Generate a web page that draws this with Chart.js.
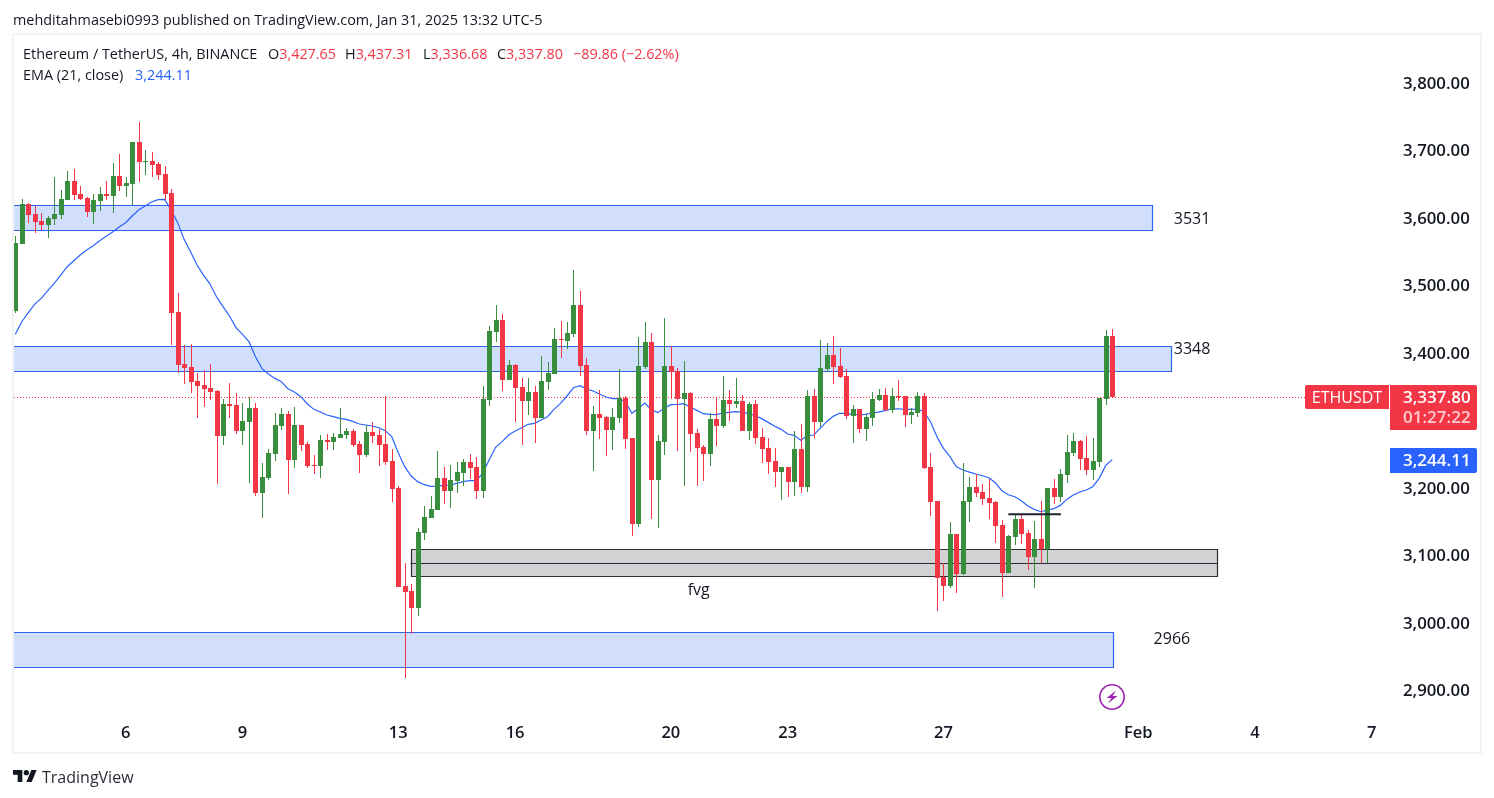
<!DOCTYPE html>
<html>
<head>
<meta charset="utf-8">
<title>ETHUSDT 4h</title>
<script src="https://cdn.jsdelivr.net/npm/chart.js@4"></script>
<style>
html, body { margin: 0; padding: 0; background: #fff; width: 1494px; height: 798px; overflow: hidden; }
body { font-family: "Open Sans", sans-serif; color: #131722; }
#frame { position: absolute; left: 12px; top: 33px; width: 1466px; height: 717px; border: 2px solid #f2f3f5; }
canvas { position: absolute; left: 0; top: 0; }
.txt { position: absolute; white-space: pre; font-size: 14.4px; line-height: 18px; }
.red { color: #f23645; }
.blue { color: #2962ff; }
</style>
</head>
<body>
<div id="frame"></div>
<canvas id="myChart" width="1494" height="798"></canvas>
<div class="txt" style="left:13px;top:11px">mehditahmasebi0993 published on TradingView.com, Jan 31, 2025 13:32 UTC-5</div>
<div class="txt" style="left:23px;top:45px">Ethereum / TetherUS, 4h, BINANCE</div>
<div class="txt" style="left:268px;top:45px">O<span class="red">3,427.65</span></div>
<div class="txt" style="left:345px;top:45px">H<span class="red">3,437.31</span></div>
<div class="txt" style="left:423px;top:45px">L<span class="red">3,336.68</span></div>
<div class="txt" style="left:497px;top:45px">C<span class="red">3,337.80</span></div>
<div class="txt red" style="left:573px;top:45px">−89.86 (−2.62%)</div>
<div class="txt" style="left:23px;top:66px">EMA (21, close)</div>
<div class="txt blue" style="left:135px;top:66px">3,244.11</div>
<svg style="position:absolute;left:13px;top:767px" width="24" height="18" viewBox="0 0 36 26"><path fill="#131722" d="M14 22H7V11H0V4h14v18zM28 22h-8l7.5-18h8L28 22z"/><circle fill="#131722" cx="20" cy="8" r="4"/></svg>
<div class="txt" style="left:42px;top:767px;font-size:16px;line-height:20px;color:#2a2e39">TradingView</div>
<svg style="position:absolute;left:1098px;top:683px" width="28" height="28" viewBox="0 0 28 28"><circle cx="14" cy="14" r="12.2" fill="#fff" stroke="#9c27b0" stroke-width="1.6"/><path fill="#9c27b0" d="M18 7.5 8.5 15h5l-3.5 5.5 9.5-7.5h-5z"/></svg>

<script>
// candles, oldest first, 4h bars
var opens = [
  3463,3562,3621,3606,3596,3590,3599,3605,3627,3655,
  3636,3630,3609,3625,3636,3633,3662,3648,3651,3713,
  3683,3685,3680,3665,3637,3461,3384,3379,3358,3353,
  3348,3344,3277,3324,3323,3284,3298,3319,3192,3215,
  3250,3292,3310,3241,3293,3265,3234,3233,3271,3268,
  3274,3278,3284,3265,3249,3283,3278,3265,3240,3200,
  3055,3047,3022,3133,3155,3167,3215,3195,3210,3222,
  3238,3231,3195,3330,3431,3449,3360,3382,3350,3329,
  3342,3304,3357,3369,3421,3418,3428,3471,3382,3284,
  3310,3305,3286,3304,3333,3274,3147,3379,3416,3212,
  3268,3381,3373,3332,3341,3281,3261,3250,3302,3292,
  3330,3324,3329,3284,3324,3276,3259,3240,3224,3231,
  3209,3258,3201,3336,3298,3376,3397,3381,3366,3307,
  3317,3287,3304,3330,3338,3315,3336,3336,3308,3311,
  3336,3231,3181,3068,3055,3132,3072,3179,3201,3194,
  3185,3179,3145,3074,3127,3154,3133,3098,3124,3109,
  3200,3187,3219,3252,3270,3244,3227,3238,3332,3425
];
var highs = [
  3574,3628,3622,3618,3608,3603,3661,3642,3670,3673,
  3648,3631,3636,3646,3655,3682,3695,3661,3713,3743,
  3701,3698,3683,3677,3643,3489,3412,3413,3370,3375,
  3384,3345,3332,3356,3341,3326,3335,3326,3237,3258,
  3311,3319,3314,3320,3294,3268,3249,3278,3280,3281,
  3319,3289,3287,3270,3293,3298,3287,3336,3258,3203,
  3089,3058,3141,3173,3188,3255,3231,3234,3238,3243,
  3250,3246,3351,3440,3471,3458,3390,3384,3363,3363,
  3351,3396,3387,3437,3448,3446,3523,3492,3393,3321,
  3345,3306,3319,3376,3336,3274,3424,3446,3430,3278,
  3452,3410,3378,3388,3342,3287,3264,3311,3333,3366,
  3345,3363,3338,3327,3330,3289,3274,3259,3231,3231,
  3284,3295,3345,3347,3419,3415,3425,3407,3376,3323,
  3317,3310,3342,3347,3348,3348,3360,3336,3318,3342,
  3341,3252,3181,3089,3149,3132,3237,3216,3221,3206,
  3213,3181,3152,3130,3160,3161,3138,3151,3181,3200,
  3213,3228,3278,3281,3271,3277,3274,3334,3434,3435.5
];
var lows = [
  3460,3561,3593,3578,3582,3570,3590,3599,3627,3627,
  3627,3602,3591,3611,3627,3608,3640,3631,3619,3654,
  3664,3661,3657,3627,3412,3370,3354,3341,3304,3320,
  3330,3206,3264,3304,3280,3264,3207,3188,3155,3212,
  3240,3286,3191,3230,3255,3230,3221,3215,3256,3256,
  3274,3273,3261,3222,3246,3267,3233,3234,3179,3053,
  2918,2983,3010,3123,3155,3167,3176,3170,3192,3203,
  3213,3184,3185,3321,3416,3344,3360,3298,3264,3308,
  3267,3304,3345,3369,3393,3406,3424,3366,3278,3225,
  3273,3247,3256,3296,3258,3129,3142,3376,3154,3141,
  3249,3332,3255,3203,3253,3203,3210,3233,3262,3289,
  3299,3319,3284,3271,3265,3237,3221,3201,3182,3187,
  3188,3192,3194,3274,3290,3372,3354,3363,3302,3267,
  3281,3270,3292,3329,3314,3311,3329,3290,3295,3305,
  3228,3158,3018,3032,3052,3044,3071,3149,3187,3175,
  3154,3118,3038,3074,3115,3117,3078,3052,3089,3089,
  3176,3179,3207,3247,3227,3219,3212,3231,3323,3333.5
];
var closes = [
  3563,3621,3605,3594,3590,3600,3606,3628,3655,3634,
  3628,3609,3627,3636,3633,3662,3648,3652,3713,3683,
  3685,3679,3664,3636,3459,3382,3378,3357,3351,3347,
  3342,3277,3324,3321,3284,3299,3319,3192,3216,3252,
  3293,3310,3241,3293,3264,3233,3233,3271,3268,3276,
  3280,3284,3264,3249,3283,3277,3264,3238,3198,3053,
  3046,3022,3135,3157,3169,3215,3195,3212,3224,3238,
  3230,3195,3332,3433,3449,3360,3382,3348,3329,3342,
  3304,3359,3370,3421,3419,3430,3471,3381,3284,3310,
  3304,3286,3305,3333,3273,3147,3381,3416,3212,3270,
  3381,3372,3332,3341,3280,3259,3250,3302,3292,3330,
  3324,3329,3284,3324,3274,3258,3238,3224,3231,3209,
  3258,3201,3336,3298,3378,3397,3379,3364,3307,3317,
  3287,3305,3332,3338,3315,3336,3335,3308,3312,3336,
  3230,3179,3066,3055,3132,3072,3181,3201,3192,3184,
  3178,3144,3074,3129,3154,3132,3098,3124,3109,3200,
  3187,3221,3253,3270,3243,3227,3240,3334,3425,3334.5
];
var ema = [
  3427.7,3446.4,3459.8,3472.6,3481,3492.4,3503.3,3515.6,3528,3536.9,
  3545.3,3552.7,3559.1,3566.5,3573,3579.4,3586.8,3593.2,3603.1,3612,
  3618,3623.9,3627.3,3627.8,3612,3593.7,3568.5,3550.2,3530.5,3515.6,
  3502.3,3483.5,3468.7,3454.9,3437.6,3427.7,3416.8,3394.6,3377.3,3368.9,
  3362.4,3357.5,3347.1,3342.2,3335.3,3324.4,3316.5,3312.5,3308.1,3305.6,
  3303.2,3301.7,3298.7,3294.8,3293.3,3291.8,3289.3,3284.9,3276,3252.3,
  3231.5,3217.7,3209.3,3204.8,3202.3,3202.8,3203.8,3204.3,3206.8,3209.3,
  3210.7,3210.7,3221.6,3241.4,3260.2,3268.6,3278.4,3284.4,3289.3,3294.3,
  3295.8,3300.7,3305.6,3316.5,3325.4,3336.3,3348.6,3351.6,3346.6,3343.7,
  3339.2,3334.8,3332.3,3332.3,3327.9,3310.6,3318,3325.9,3316,3311.6,
  3318,3323.4,3323.9,3324.9,3320,3315,3310.1,3309.1,3308.6,3311.1,
  3312,3313,3312,3310.6,3307.1,3302.7,3297.2,3291.3,3286.8,3279.9,
  3278,3270.6,3277.4,3278.4,3288.3,3298.2,3306.1,3310.6,3310.6,3309.1,
  3308.6,3309.1,3311.1,3312.5,3314.5,3317,3317.4,3316.5,3316.5,3317,
  3313,3298.2,3275.9,3258.6,3246.3,3231.4,3226.5,3223.5,3220.6,3218.1,
  3215.1,3207.7,3195.9,3189.9,3187,3181,3173.1,3168.2,3164.7,3167.2,
  3169.2,3174.1,3183,3189.5,3193.9,3196.9,3201.8,3214.2,3233.4,3242
];

// time axis: bar index of each date label
var dayTicks = [17, 35, 59, 77, 101, 119, 143, 173, 191, 209];
var dayLabels = ["6", "9", "13", "16", "20", "23", "27", "Feb", "4", "7"];

// drawn boxes: first bar, last bar, upper price, lower price
var blueZones = [
  [-1, 175.1, 3619, 3583],
  [-1, 178.1, 3411, 3374],
  [-1, 169.1, 2987, 2934]
];
var fvgZone = [60.9, 185.2, 3109, 3069];
var fvgMid = 3088;
var neckLine = [153, 161.1, 3161];

var noteTexts = ["3531", "3348", "2966", "fvg"];
var noteBars = [181.3, 181.3, 178.2, 105.3];
var notePrices = [3600, 3407, 2977.5, 3050];

// axis tags: text as printed on the chart
var closeTag = "3,337.80";
var countdownTag = "01:27:22";
var emaTag = "3,244.11";
var symbolTag = "ETHUSDT";

var lastClose = closes[closes.length - 1];
var lastEma = ema[ema.length - 1];

var RED = "#f23645", GREEN = "#388e3c", BLUE = "#2962ff";
var tickFont = "Open Sans";

function money(v) {
  return v.toLocaleString("en-US", { minimumFractionDigits: 2, maximumFractionDigits: 2 });
}

var barColors = opens.map(function (o, i) { return closes[i] >= o ? GREEN : RED; });

// bars land on whole pixels like the original chart
var snapBars = {
  id: "snapBars",
  afterDatasetsUpdate: function (chart) {
    chart.data.datasets.forEach(function (ds, n) {
      if (ds.type == "line") return;
      chart.getDatasetMeta(n).data.forEach(function (el) {
        el.x = Math.round(el.x) + 0.5;
        el.y = Math.round(el.y);
        el.base = Math.round(el.base);
        if (el.base == el.y) el.base = el.y + 1;
      });
    });
  }
};

function rectZone(ctx, sx, sy, z, fill, stroke) {
  var clipped = sx.getPixelForValue(z[0]) < sx.left;
  var x1 = clipped ? sx.left : Math.round(sx.getPixelForValue(z[0])) + 0.5;
  var x2 = Math.round(sx.getPixelForValue(z[1])) + 0.5;
  var y1 = Math.round(sy.getPixelForValue(z[2])) + 0.5;
  var y2 = Math.round(sy.getPixelForValue(z[3])) + 0.5;
  ctx.fillStyle = fill;
  ctx.fillRect(x1, y1, x2 - x1, y2 - y1);
  ctx.strokeStyle = stroke;
  ctx.lineWidth = 1.2;
  ctx.beginPath();
  ctx.moveTo(x1, y1); ctx.lineTo(x2, y1); ctx.lineTo(x2, y2); ctx.lineTo(x1, y2);
  if (!clipped) ctx.closePath();
  ctx.stroke();
}

var drawings = {
  id: "drawings",
  beforeDatasetsDraw: function (chart) {
    var ctx = chart.ctx, sx = chart.scales.x, sy = chart.scales.y;
    ctx.save();
    blueZones.forEach(function (z) { rectZone(ctx, sx, sy, z, "#d1dffd", "#2e62f0"); });
    rectZone(ctx, sx, sy, fvgZone, "#d2d2d4", "#2a2e39");
    var my = Math.round(sy.getPixelForValue(fvgMid)) + 0.5;
    ctx.strokeStyle = "#2a2e39";
    ctx.beginPath();
    ctx.moveTo(sx.getPixelForValue(fvgZone[0]), my);
    ctx.lineTo(sx.getPixelForValue(fvgZone[1]), my);
    ctx.stroke();

    var py = Math.round(sy.getPixelForValue(lastClose)) + 0.5;
    ctx.strokeStyle = RED;
    ctx.lineWidth = 1;
    ctx.setLineDash([1, 2]);
    ctx.beginPath();
    ctx.moveTo(sx.left, py);
    ctx.lineTo(sx.right, py);
    ctx.stroke();
    ctx.restore();
  },
  afterDatasetsDraw: function (chart) {
    var ctx = chart.ctx, sx = chart.scales.x, sy = chart.scales.y;
    ctx.save();
    var ny = sy.getPixelForValue(neckLine[2]);
    ctx.strokeStyle = "#1e222d";
    ctx.lineWidth = 2;
    ctx.beginPath();
    ctx.moveTo(sx.getPixelForValue(neckLine[0]), ny);
    ctx.lineTo(sx.getPixelForValue(neckLine[1]), ny);
    ctx.stroke();

    ctx.fillStyle = "#131722";
    ctx.font = "16px '" + tickFont + "'";
    ctx.textAlign = "center";
    ctx.textBaseline = "middle";
    noteTexts.forEach(function (t, i) {
      ctx.fillText(t, sx.getPixelForValue(noteBars[i]), sy.getPixelForValue(notePrices[i]) + 1);
    });
    ctx.restore();
  },
  afterDraw: function (chart) {
    var ctx = chart.ctx, sy = chart.scales.y;
    var axisLeft = chart.chartArea.right;
    ctx.save();
    var cy = Math.round(sy.getPixelForValue(lastClose));
    ctx.fillStyle = RED;
    ctx.beginPath();
    ctx.roundRect(axisLeft - 85, cy - 12, 84, 24, [2, 0, 0, 2]);
    ctx.fill();
    ctx.beginPath();
    ctx.roundRect(axisLeft, cy - 12, 87, 45, [0, 2, 2, 0]);
    ctx.fill();
    var by = Math.round(sy.getPixelForValue(lastEma));
    ctx.fillStyle = BLUE;
    ctx.beginPath();
    ctx.roundRect(axisLeft, by - 12, 87, 25, [0, 2, 2, 0]);
    ctx.fill();

    ctx.textBaseline = "middle";
    ctx.textAlign = "center";
    ctx.font = "500 16px '" + tickFont + "'";
    ctx.fillStyle = "#fff";
    ctx.fillText(symbolTag, axisLeft - 43, cy + 1);
    ctx.textAlign = "left";
    ctx.font = "600 17px '" + tickFont + "'";
    ctx.fillText(closeTag, axisLeft + 13, cy + 1);
    ctx.fillText(emaTag, axisLeft + 13, by + 1);
    ctx.fillStyle = "rgba(255,255,255,0.75)";
    ctx.fillText(countdownTag, axisLeft + 13, cy + 21);
    ctx.restore();
  }
};

var ctx = document.getElementById("myChart");
var myChart = new Chart(ctx, {
  type: "bar",
  data: {
    datasets: [
      {
        label: "Body",
        data: opens.map(function (o, i) { return { x: i, y: [o, closes[i]] }; }),
        backgroundColor: barColors,
        barThickness: 5,
        inflateAmount: 0,
        grouped: false,
        order: 1
      },
      {
        label: "Wick",
        data: lows.map(function (l, i) { return { x: i, y: [l, highs[i]] }; }),
        backgroundColor: barColors,
        barThickness: 1,
        inflateAmount: 0,
        grouped: false,
        order: 2
      },
      {
        type: "line",
        label: "EMA (21, close)",
        data: ema.map(function (v, i) { return { x: i, y: v }; }),
        borderColor: BLUE,
        borderWidth: 1.2,
        pointRadius: 0,
        tension: 0,
        fill: false,
        order: 3
      }
    ]
  },
  plugins: [snapBars, drawings],
  options: {
    responsive: false,
    animation: false,
    events: [],
    layout: { padding: { left: 14, top: 35, right: 0, bottom: 0 } },
    plugins: { legend: { display: false }, tooltip: { enabled: false } },
    scales: {
      x: {
        type: "linear",
        offset: false,
        min: -0.2,
        max: 211.8,
        border: { display: false },
        grid: { display: false, drawTicks: false },
        afterBuildTicks: function (axis) {
          axis.ticks = dayTicks.map(function (v) { return { value: v }; });
        },
        afterFit: function (axis) { axis.height = 80; },
        ticks: {
          autoSkip: false,
          maxRotation: 0,
          padding: 5,
          color: "#131722",
          font: { family: tickFont, size: 16.5, weight: 600 },
          callback: function (v) { return dayLabels[dayTicks.indexOf(v)]; }
        }
      },
      y: {
        position: "right",
        min: 2858.9,
        max: 3871.5,
        border: { display: false },
        grid: { display: false, drawTicks: false },
        afterFit: function (axis) { axis.width = 104; },
        ticks: {
          stepSize: 100,
          includeBounds: false,
          padding: 13,
          labelOffset: 1,
          color: "#131722",
          font: { family: tickFont, size: 16.8, weight: 600 },
          callback: function (v) { return money(v); }
        }
      }
    }
  }
});
</script>
</body>
</html>
